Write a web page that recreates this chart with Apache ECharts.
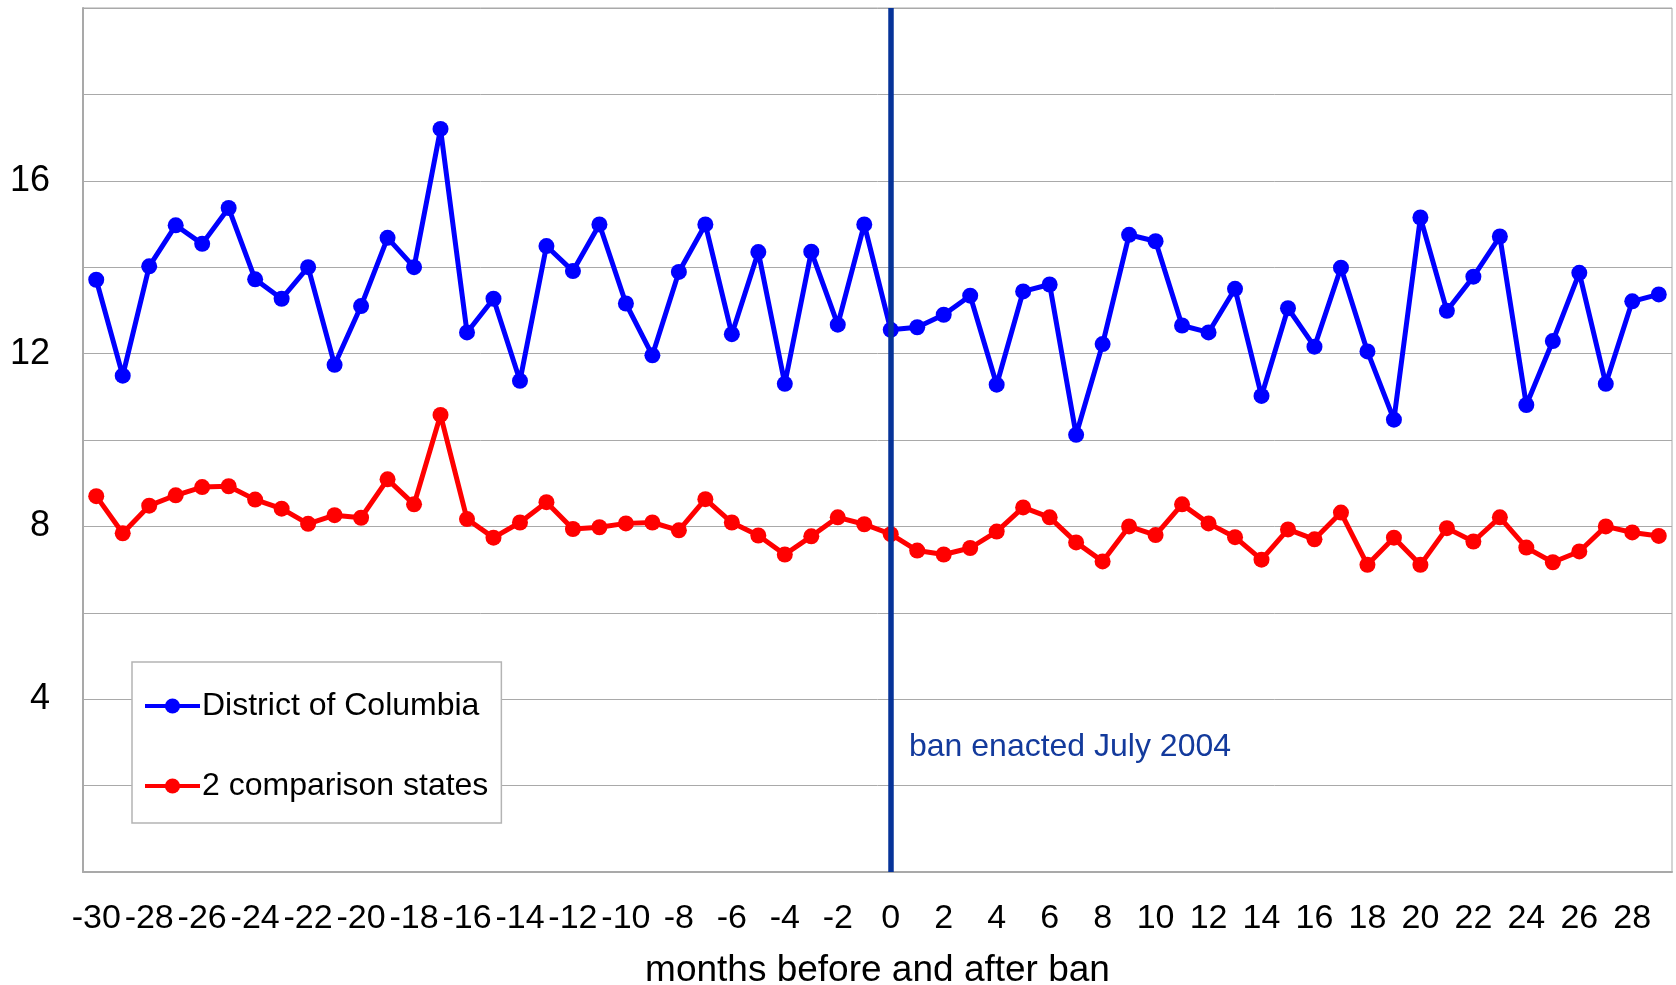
<!DOCTYPE html>
<html>
<head>
<meta charset="utf-8">
<script src="https://cdn.jsdelivr.net/npm/echarts@6/dist/echarts.min.js"></script>
<style>
  html, body { margin: 0; padding: 0; background: #fff; }
  #chartmain { width: 1676px; height: 985px; }
</style>
</head>
<body>
<div id="chartmain"></div>
<script>
// months relative to the ban (x categories)
var months = ['-30','-29','-28','-27','-26','-25','-24','-23','-22','-21',
  '-20','-19','-18','-17','-16','-15','-14','-13','-12','-11',
  '-10','-9','-8','-7','-6','-5','-4','-3','-2','-1',
  '0','1','2','3','4','5','6','7','8','9',
  '10','11','12','13','14','15','16','17','18','19',
  '20','21','22','23','24','25','26','27','28','29'];

// District of Columbia
var dcData = [13.71, 11.49, 14.02, 14.97, 14.54, 15.37, 13.72, 13.27, 14.00, 11.74,
  13.10, 14.68, 14.00, 17.20, 12.49, 13.27, 11.37, 14.49, 13.91, 14.99,
  13.16, 11.96, 13.89, 14.99, 12.45, 14.35, 11.30, 14.36, 12.67, 14.99,
  12.55, 12.61, 12.90, 13.34, 11.28, 13.44, 13.60, 10.12, 12.22, 14.75,
  14.60, 12.65, 12.49, 13.50, 11.02, 13.05, 12.16, 13.99, 12.05, 10.47,
  15.15, 12.99, 13.78, 14.71, 10.81, 12.29, 13.87, 11.30, 13.21, 13.37];

// 2 comparison states
var compData = [8.70, 7.84, 8.48, 8.72, 8.91, 8.93, 8.62, 8.41, 8.06, 8.26,
  8.20, 9.09, 8.51, 10.58, 8.17, 7.74, 8.09, 8.56, 7.94, 7.98,
  8.07, 8.09, 7.91, 8.63, 8.09, 7.79, 7.35, 7.77, 8.21, 8.05,
  7.82, 7.44, 7.35, 7.50, 7.88, 8.44, 8.21, 7.63, 7.19, 8.00,
  7.80, 8.51, 8.07, 7.75, 7.23, 7.93, 7.70, 8.32, 7.11, 7.74,
  7.11, 7.96, 7.65, 8.21, 7.51, 7.17, 7.42, 8.00, 7.86, 7.78];

// y labels shown only at these values
var yLabels = [4, 8, 12, 16];
var banMonth = '0';
var banText = 'ban enacted July 2004';

var fontName = '"Liberation Sans", Arial, sans-serif';
var gridGrey = '#a9a9a9';

var option = {
  animation: false,
  backgroundColor: '#fff',
  textStyle: { fontFamily: fontName },
  grid: {
    left: 83, right: 4, top: 8, bottom: 113,
    outerBoundsMode: 'none',
    containLabel: false,
    show: true, borderColor: gridGrey, borderWidth: 1
  },
  legend: {
    orient: 'vertical',
    left: 132, top: 662,
    padding: [28, 13, 21, 11],
    itemGap: 48,
    itemWidth: 55,
    itemHeight: 19,
    backgroundColor: '#fff',
    borderColor: '#b4b4b4',
    borderWidth: 1.5,
    lineStyle: { width: 4 },
    textStyle: { fontSize: 32, color: '#000', fontFamily: fontName, padding: [0, 0, 0, -3] },
    data: ['District of Columbia', '2 comparison states']
  },
  xAxis: {
    type: 'category',
    data: months,
    boundaryGap: true,
    axisLine: { lineStyle: { color: gridGrey, width: 2 } },
    axisTick: { alignWithLabel: true, interval: 0, length: 7, lineStyle: { color: gridGrey, width: 2 } },
    axisLabel: { interval: 1, fontSize: 34, color: '#000', margin: 30, fontFamily: fontName },
    name: 'months before and after ban',
    nameLocation: 'middle',
    nameGap: 80,
    nameTextStyle: { fontSize: 37, color: '#000', fontFamily: fontName }
  },
  yAxis: {
    type: 'value',
    min: 0, max: 20, interval: 2,
    axisLine: { show: true, lineStyle: { color: gridGrey, width: 2 } },
    axisTick: { show: false },
    splitLine: { lineStyle: { color: gridGrey, width: 1 } },
    axisLabel: {
      fontSize: 36, color: '#000', margin: 33, fontFamily: fontName,
      padding: [12, 0, 0, 0],
      formatter: function (v) { return yLabels.indexOf(v) >= 0 ? String(v) : ''; }
    }
  },
  series: [
    {
      name: 'District of Columbia',
      type: 'line',
      data: dcData,
      color: '#0000ff',
      symbol: 'circle',
      symbolSize: 16,
      lineStyle: { width: 5, color: '#0000ff' },
      itemStyle: { color: '#0000ff' }
    },
    {
      name: '2 comparison states',
      type: 'line',
      data: compData,
      color: '#ff0000',
      symbol: 'circle',
      symbolSize: 16,
      lineStyle: { width: 5, color: '#ff0000' },
      itemStyle: { color: '#ff0000' },
      markLine: {
        silent: true,
        symbol: ['none', 'none'],
        label: { show: false },
        lineStyle: { color: '#063399', width: 5.5, type: 'solid' },
        data: [{ xAxis: banMonth }]
      }
    }
  ],
  graphic: [
    {
      type: 'text',
      left: 909, top: 731,
      style: { text: banText, fill: '#133a9c', font: '32px ' + fontName }
    }
  ]
};

var chartmain = echarts.init(document.getElementById('chartmain'));
chartmain.setOption(option);
</script>
</body>
</html>
